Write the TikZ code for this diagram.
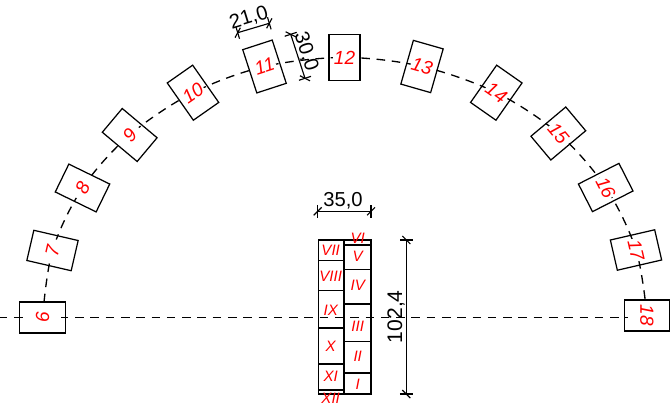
\documentclass[tikz,border=0pt]{standalone}
\usepackage{fontspec}
\setmainfont{Liberation Sans}
\usetikzlibrary{calc}
\tikzset{
	blockbox/.style={draw,line width=0.7pt,minimum width=0.62cm,minimum height=0.91cm,inner sep=0pt},
	blocknum/.style={fill=white,inner sep=0pt,minimum width=0.46cm,minimum height=0.76cm,text=red,font=\fontsize{10.8}{10.8}\selectfont\itshape},
	stackline/.style={line width=0.7pt},
	stacknum/.style={inner sep=0pt,text=red,font=\fontsize{8.6}{8.6}\selectfont\itshape},
	axisline/.style={line width=0.75pt,dash pattern=on 4.9pt off 3.8pt},
	dimline/.style={line width=0.65pt},
	dimtext/.style={inner sep=0pt,font=\fontsize{11.5}{11.5}\selectfont}
}
\newcommand{\dimmark}[2]{
	\draw[dimline] ($(#1)!3.6pt!90:(#2)$) -- ($(#1)!3.6pt!-90:(#2)$);
	\draw[dimline] ($(#1)!3.2pt!45:(#2)$) -- ($(#1)!3.2pt!-135:(#2)$);
}
\begin{document}
\begin{tikzpicture}[x=0.02cm,y=-0.02cm]
	\useasboundingbox (0,0) rectangle (671,405);
	% arc of blocks
	\foreach \nr/\px/\py/\ang in {6/42.5/317.5/90,7/52.5/250.5/77,8/82.5/188/64,9/129.7/135/50,10/193/92.7/35,11/264.5/66.5/18,12/344.5/57.5/0,13/422/66.5/-16,14/496.3/92.7/-35,15/558.3/133.5/-50,16/605.7/187.5/-63,17/636/250/-77,18/647/315.5/-90}
		\node[blockbox,rotate=\ang] (b\nr) at (\px,\py) {};
	\draw[axisline] plot[smooth,tension=0.55] coordinates {(b6.center) (b7.center) (b8.center) (b9.center) (b10.center) (b11.center) (b12.center) (b13.center) (b14.center) (b15.center) (b16.center) (b17.center) (b18.center)};
	\coordinate (axis l) at (0,317.7);
	\coordinate (axis r) at (671,317.7);
	\draw[axisline,dash phase=0.75pt] (axis l) -- (axis r);
	\foreach \nr/\ang in {6/90,7/77,8/64,9/50,10/35,11/18,12/0,13/-16,14/-35,15/-50,16/-63,17/-77,18/-90}
		\node[blocknum,rotate=\ang] (n\nr) at (b\nr) {\nr};
	% stack in the middle
	\foreach \ya/\yb in {240/260.7,260.7/290.7,290.7/328,328/364,364/390,390/394}
		\draw[stackline] (318.3,\ya) rectangle (344,\yb);
	\foreach \ya/\yb in {240/245,245/269.3,269.3/304,304/341.3,341.3/373,373/394}
		\draw[stackline] (344,\ya) rectangle (371,\yb);
	\draw[line width=1pt] (318.3,240) -- (371,240);
	\draw[line width=1pt] (318.3,394) -- (371,394);
	\foreach \nr/\py in {VII/250.7,VIII/276,IX/310,X/346.7,XI/376,XII/398}
		\node[stacknum] (s\nr) at (330.7,\py) {\nr};
	\foreach \nr/\py in {VI/238,V/256.7,IV/285.7,III/326,II/356.7,I/384}
		\node[stacknum] (s\nr) at (357.7,\py) {\nr};
	% dimensions
	\coordinate (d21a) at (237.7,32.7);
	\coordinate (d21b) at (269.3,23.3);
	\coordinate (d30a) at (290.7,34.3);
	\coordinate (d30b) at (305,78.3);
	\coordinate (d35a) at (317.7,211.3);
	\coordinate (d35b) at (371,211.3);
	\coordinate (d102a) at (406.3,240);
	\coordinate (d102b) at (406.3,394);
	\foreach \a/\b in {d21a/d21b,d30a/d30b,d35a/d35b,d102a/d102b}{
		\draw[dimline] (\a) -- (\b);
		\dimmark{\a}{\b}
		\dimmark{\b}{\a}
	}
	\node[dimtext,rotate=17] (t21) at (249,18) {21,0};
	\node[dimtext,rotate=-72] (t30) at (306,51.7) {30,0};
	\node[dimtext] (t35) at (343,200.5) {35,0};
	\node[dimtext,rotate=90,font=\fontsize{12}{12}\selectfont] (t102) at (396,316.7) {102,4};
\end{tikzpicture}
\end{document}
